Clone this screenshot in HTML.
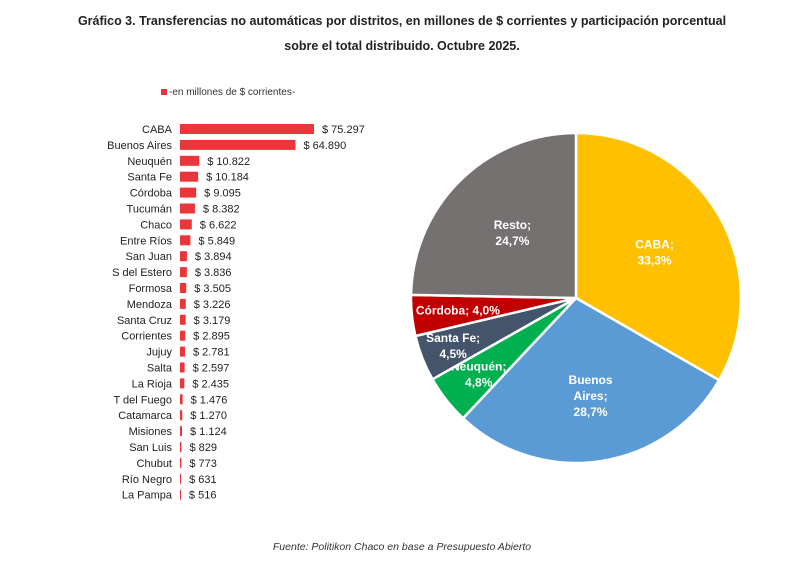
<!DOCTYPE html>
<html><head><meta charset="utf-8"><style>
body{margin:0;width:800px;height:577px;background:#fff;font-family:"Liberation Sans",sans-serif;overflow:hidden}
svg{position:absolute;left:0;top:0}
</style></head><body>
<svg width="800" height="577">
<text x="402" y="25" text-anchor="middle" font-size="12.5" font-weight="bold" fill="#222">Gráfico 3. Transferencias no automáticas por distritos, en millones de $ corrientes y participación porcentual</text>
<text x="402" y="50" text-anchor="middle" font-size="12.5" font-weight="bold" fill="#222">sobre el total distribuido. Octubre 2025.</text>
<rect x="161" y="89" width="6" height="6" fill="#e8363a"/>
<text x="169" y="95" font-size="10" fill="#333">-en millones de $ corrientes-</text>
<g id="bars"></g>
<g id="pie"></g>
<text x="402" y="550" text-anchor="middle" font-size="10.5" font-style="italic" fill="#333">Fuente: Politikon Chaco en base a Presupuesto Abierto</text>
</svg>
<script>
const categories=["CABA","Buenos Aires","Neuquén","Santa Fe","Córdoba","Tucumán","Chaco","Entre Ríos","San Juan","S del Estero","Formosa","Mendoza","Santa Cruz","Corrientes","Jujuy","Salta","La Rioja","T del Fuego","Catamarca","Misiones","San Luis","Chubut","Río Negro","La Pampa"];
const values=[75297,64890,10822,10184,9095,8382,6622,5849,3894,3836,3505,3226,3179,2895,2781,2597,2435,1476,1270,1124,829,773,631,516];
const pieLabels=["CABA","Buenos Aires","Neuquén","Santa Fe","Córdoba","Resto"];
const pieValues=[33.3,28.7,4.8,4.5,4.0,24.7];
const pieColors=["#ffc000","#5b9bd5","#00b050","#44546a","#c00000","#767171"];
const NS="http://www.w3.org/2000/svg";
function mk(t,a,p){const e=document.createElementNS(NS,t);for(const k in a)e.setAttribute(k,a[k]);p.appendChild(e);return e;}
const x0=180,xs=134/75297,y0=129,step=15.9;
const bx=v=>x0+v*xs, by=i=>y0+i*step;
const fmt=v=>"$ "+v.toString().replace(/\B(?=(\d{3})+(?!\d))/g,".");
const bars=document.getElementById("bars");
categories.forEach((c,i)=>{
 const r=mk("rect",{x:x0,y:by(i)-5,width:Math.max(1,bx(values[i])-x0),height:10,fill:"#e8363a"},bars);
 
 
 const l=mk("text",{x:172,y:by(i)+4,"text-anchor":"end","font-size":"11",fill:"#222"},bars);l.textContent=c;
 
 
 const v=mk("text",{x:bx(values[i])+8,y:by(i)+4,"font-size":"11",fill:"#222"},bars);v.textContent=fmt(values[i]);
 
 
});
const pie=document.getElementById("pie");
const cx=576,cy=298,R=165;
const tot=pieValues.reduce((a,b)=>a+b,0);
let a=0;
const pt=(ang,r)=>[cx+r*Math.sin(ang),cy-r*Math.cos(ang)];
const labPos=[[0.55,0],[0.6,0],[0.75,0],[0.8,0],[0.72,0],[0.55,0]];
pieValues.forEach((v,i)=>{
 const a1=a+v/tot*2*Math.PI;
 const p0=pt(a,R),p1=pt(a1,R);
 const s=mk("path",{d:`M${cx},${cy}L${p0[0]},${p0[1]}A${R},${R} 0 ${a1-a>Math.PI?1:0} 1 ${p1[0]},${p1[1]}Z`,fill:pieColors[i],stroke:"#fff","stroke-width":"2.5"},pie);
 
 
 const m=(a+a1)/2, lp=pt(m,R*labPos[i][0]);
 const t=mk("text",{x:lp[0],y:lp[1],"text-anchor":"middle","font-size":"12","font-weight":"bold",fill:"#fff"},pie);
 
 
 const pct=v.toFixed(1).replace(".",",")+"%";
 let lines;
 if(pieLabels[i]==="Córdoba") lines=[pieLabels[i]+"; "+pct];
 else if(pieLabels[i]==="Buenos Aires") lines=["Buenos","Aires;",pct];
 else lines=[pieLabels[i]+";",pct];
 const y0=lp[1]-(lines.length-1)*8+4;
 lines.forEach((ln,j)=>{const ts=mk("tspan",{x:lp[0],y:y0+j*16},t);ts.textContent=ln;});
 a=a1;
});
</script>
</body></html>
